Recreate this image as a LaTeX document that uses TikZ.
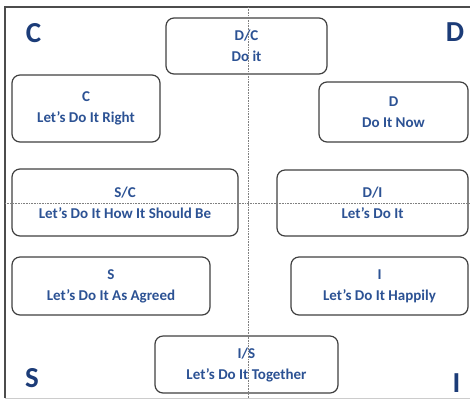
\documentclass[tikz,border=0pt]{standalone}
\usepackage{fontspec}
\setmainfont{Carlito}
\definecolor{quadblue}{RGB}{28,60,120}
\definecolor{styleblue}{RGB}{44,82,148}
\tikzset{
  stylebox/.style={draw=black!75, line width=1.2pt, rounded corners=8pt, fill=white,
    text=styleblue, align=center, inner sep=0pt,
    font=\fontsize{15}{21}\selectfont\bfseries},
  quadletter/.style={text=quadblue, anchor=base, inner sep=0pt,
    font=\fontsize{29}{30}\selectfont\bfseries},
  midline/.style={black!50, line width=0.6pt, densely dotted}
}

\begin{document}
\begin{tikzpicture}[x=1pt, y=-1pt]
\useasboundingbox (0,0) rectangle (470,400);
% outer frame
\draw[black!70, line width=1.6pt] (470,7) -- (5,7) -- (5,398);
\draw[black!20, line width=0.6pt] (5,398) -- (470,398);
% corner letters
\node[quadletter] (lc) at (33.5,42) {C};
\node[quadletter] (ld) at (455,41) {D};
\node[quadletter] (ls) at (32,387) {S};
\node[quadletter] (li) at (456.5,392) {I};
% style boxes
\node[stylebox, minimum width=161pt, minimum height=56pt] (dc) at (246.5,46) {D/C\\Do it};
\node[stylebox, minimum width=148pt, minimum height=67pt] (c) at (86,108.5) {C\\Let’s Do It Right};
\node[stylebox, minimum width=149pt, minimum height=60pt] (d) at (393.5,112) {D\\Do It Now};
\node[stylebox, minimum width=226pt, minimum height=67pt] (sc) at (125,202.5) {S/C\\Let’s Do It How It Should Be};
\node[stylebox, minimum width=191pt, minimum height=66pt] (di) at (372.5,203) {D/I\\Let’s Do It};
\node[stylebox, minimum width=198pt, minimum height=58pt] (s) at (111,286) {S\\Let’s Do It As Agreed};
\node[stylebox, minimum width=177pt, minimum height=58pt] (i) at (379.5,286) {I\\Let’s Do It Happily};
\node[stylebox, minimum width=183pt, minimum height=57pt] (is) at (246.5,364.5) {I/S\\Let’s Do It Together};
% axes
\draw[midline] (248,7) -- (248,398);
\draw[midline] (5,203) -- (470,203);
\end{tikzpicture}
\end{document}
